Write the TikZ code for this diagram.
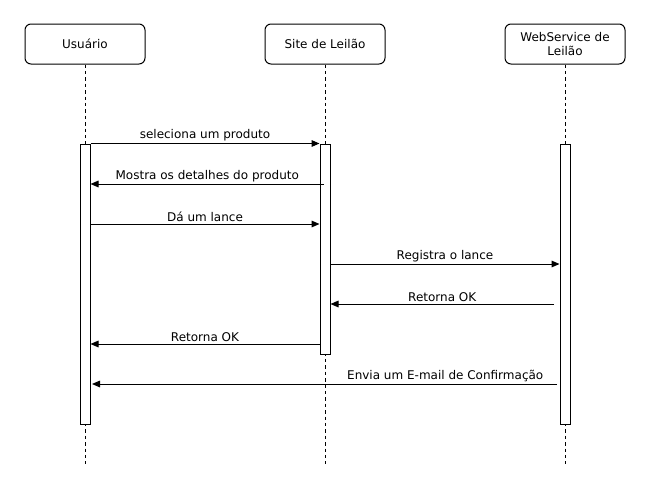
\documentclass[tikz,border=0pt]{standalone}
\usepackage{fontspec}
\setmainfont{DejaVu Sans}
\usetikzlibrary{arrows.meta}
\begin{document}
\begin{tikzpicture}[x=0.75pt,y=-0.75pt, line width=0.75pt,
  txt/.style={font=\fontsize{9}{11}\selectfont},
  actor/.style={draw, rounded corners=4.5pt, minimum width=90pt, minimum height=30pt, txt, align=center, inner sep=0pt},
  bar/.style={draw, fill=white, minimum width=7.5pt, inner sep=0pt},
  life/.style={dash pattern=on 2.6pt off 2.2pt},
  msg/.style={-{Triangle[length=6pt,width=5pt]}},
  lbl/.style={txt, above, inner sep=1.2pt}]
\useasboundingbox (0,0) rectangle (649,489);
% actors
\node[actor] (u) at (85,44) {Usuário};
\node[actor] (s) at (325,44) {Site de Leilão};
\node[actor] (w) at (565,44) {WebService de\\Leilão};
% lifelines
\coordinate (uend) at (85,464);
\coordinate (send) at (325,464);
\coordinate (wend) at (565,464);
\draw[life] (u.south) -- (uend);
\draw[life] (s.south) -- (send);
\draw[life] (w.south) -- (wend);
% activation bars
\node[bar, minimum height=210pt] (ub) at (85,284) {};
\node[bar, minimum height=157.5pt] (sb) at (325,249) {};
\node[bar, minimum height=210pt] (wb) at (565,284) {};
% message levels
\coordinate (m2) at (0,184);
\coordinate (m3) at (0,224);
\coordinate (m4) at (0,264);
\coordinate (m5) at (0,304);
\coordinate (m6) at (0,344);
\coordinate (m7) at (0,384);
\coordinate (m2s) at (324,184);
\coordinate (m5s) at (554,304);
\coordinate (m7s) at (557,384);
\coordinate (m7e) at (92,384);
% messages
\draw[msg] (ub.north east) -- (sb.north west) node[lbl, midway] {seleciona um produto};
\draw[msg] (m2s) -- (ub.east |- m2) node[lbl, midway] {Mostra os detalhes do produto};
\draw[msg] (ub.east |- m3) -- (sb.west |- m3) node[lbl, midway] {Dá um lance};
\draw[msg] (sb.east |- m4) -- (wb.west |- m4) node[lbl, midway] {Registra o lance};
\draw[msg] (m5s) -- (sb.east |- m5) node[lbl, midway] {Retorna OK};
\draw[msg] (sb.west |- m6) -- (ub.east |- m6) node[lbl, midway] {Retorna OK};
\draw[msg] (m7s) -- (m7e) node[lbl, pos=0.025, anchor=south east] {Envia um E-mail de Confirmação};
\end{tikzpicture}
\end{document}
